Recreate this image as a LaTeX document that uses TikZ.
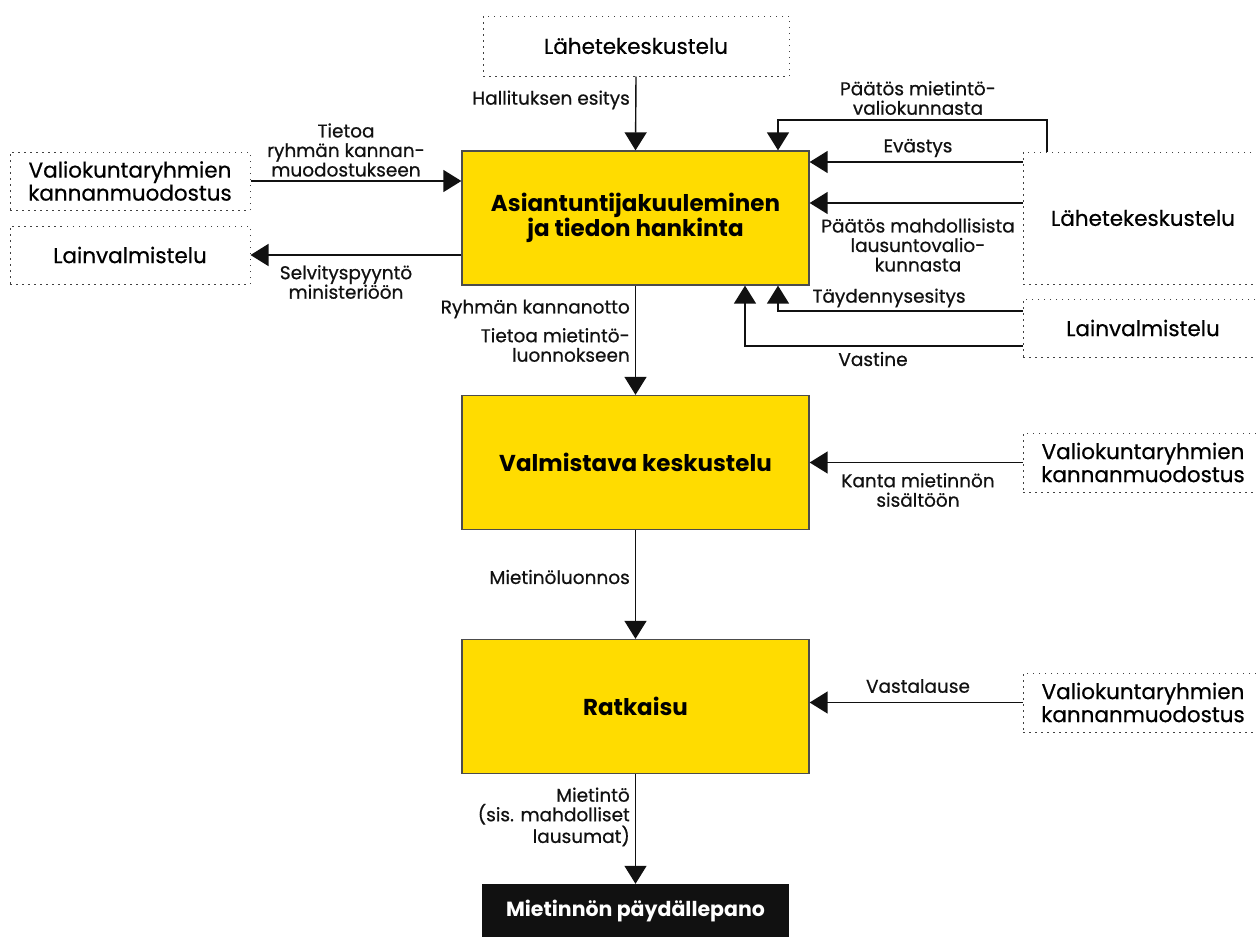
\documentclass[tikz,border=0pt]{standalone}
\usepackage{fontspec}
\setmainfont{Poppins}
\newfontfamily\medfont{Poppins}[FakeBold=0.6]
\usetikzlibrary{arrows.meta}
\definecolor{boxyellow}{HTML}{FFDC00}
\definecolor{ink}{HTML}{111111}
\begin{document}
\begin{tikzpicture}[x=1pt,y=-1pt,
  mainbox/.style={draw=ink!75, line width=1.3pt, fill=boxyellow,
    minimum width=347pt, minimum height=134pt, inner sep=0pt,
    align=center, font=\bfseries\fontsize{23}{25}\selectfont},
  sidebox/.style={draw=ink!80, line width=1pt, dash pattern=on 1.5pt off 4.5pt,
    minimum width=240pt, minimum height=58pt, inner sep=0pt,
    align=center, font=\medfont\fontsize{21.5}{23}\selectfont},
  endbox/.style={fill=ink, text=white, minimum width=307pt, minimum height=54pt,
    inner sep=0pt, font=\bfseries\fontsize{20.5}{22}\selectfont},
  lbl/.style={font=\medfont\fontsize{18.5}{19.5}\selectfont, align=center, inner sep=0pt, text=ink},
  rlbl/.style={lbl, align=right, anchor=east},
  arr/.style={-{Triangle[width=22pt,length=18pt]}, line width=1.4pt, draw=ink},
]
\useasboundingbox (0,0) rectangle (1256,937);

% main stages
\node[mainbox] (a1) at (635.5,218) {Asiantuntijakuuleminen\\ja tiedon hankinta};
\node[mainbox] (a2) at (635.5,462.5) {Valmistava keskustelu};
\node[mainbox] (a3) at (635.5,706.5) {Ratkaisu};
\node[endbox] (fin) at (635.5,911) {Mietinnön päydällepano};

% surrounding processes
\node[sidebox, minimum width=306pt, minimum height=60pt] (lahT) at (636,46) {Lähetekeskustelu};
\node[sidebox] (valL) at (130,181) {Valiokuntaryhmien\\kannanmuodostus};
\node[sidebox] (lainL) at (130,255) {Lainvalmistelu};
\node[sidebox, minimum height=132pt] (lahR) at (1143,218) {Lähetekeskustelu};
\node[sidebox] (lainR) at (1143,328) {Lainvalmistelu};
\node[sidebox, minimum height=59pt] (valR2) at (1143,462.5) {Valiokuntaryhmien\\kannanmuodostus};
\node[sidebox, minimum height=59pt] (valR3) at (1143,702.5) {Valiokuntaryhmien\\kannanmuodostus};

% routing helpers
\coordinate (xa) at (778,0);
\coordinate (xb) at (745,0);
\coordinate (xc) at (1047,0);
\coordinate (ya) at (0,120);
\coordinate (y1) at (0,162);
\coordinate (y2) at (0,203);
\coordinate (y3) at (0,311);
\coordinate (y4) at (0,346);

% connectors
\draw[arr] (lahT.south) -- (a1.north);
\draw[arr] (xc |- lahR.north) -- (xc |- ya) -| (xa |- a1.north);
\draw[arr] (lahR.west |- y1) -- (a1.east |- y1);
\draw[arr] (lahR.west |- y2) -- (a1.east |- y2);
\draw[arr] (lainR.west |- y3) -| (xa |- a1.south);
\draw[arr] (lainR.west |- y4) -| (xb |- a1.south);
\draw[arr] (valL.east) -- (a1.west |- valL.east);
\draw[arr] (a1.west |- lainL.east) -- (lainL.east);
\draw[arr] (a1.south) -- (a2.north);
\draw[arr] (valR2.west) -- (a2.east |- valR2.west);
\draw[arr] (a2.south) -- (a3.north);
\draw[arr] (valR3.west) -- (a3.east |- valR3.west);
\draw[arr] (a3.south) -- (fin.north);

% connector labels
\node[rlbl] (l1) at (630,100) {Hallituksen esitys};
\node[lbl] (l2) at (918,98) {Päätös mietintö-\\valiokunnasta};
\node[lbl] (l3) at (918,148) {Evästys};
\node[lbl] (l4) at (918,245) {Päätös mahdollisista\\lausuntovalio-\\kunnasta};
\node[lbl] (l5) at (889,298) {Täydennysesitys};
\node[lbl] (l6) at (873,359) {Vastine};
\node[lbl] (l7) at (346,150) {Tietoa\\ryhmän kannan-\\muodostukseen};
\node[lbl] (l8) at (346,282) {Selvityspyyntö\\ministeriöön};
\node[rlbl] (l9) at (630,309) {Ryhmän kannanotto};
\node[rlbl] (l10) at (630,345) {Tietoa mietintö-\\luonnokseen};
\node[lbl] (l11) at (918,490) {Kanta mietinnön\\sisältöön};
\node[rlbl] (l12) at (630,577) {Mietinöluonnos};
\node[lbl] (l13) at (918,686) {Vastalause};
\node[rlbl] (l14) at (630,817) {Mietintö\\(sis. mahdolliset\\lausumat)};
\end{tikzpicture}
\end{document}
